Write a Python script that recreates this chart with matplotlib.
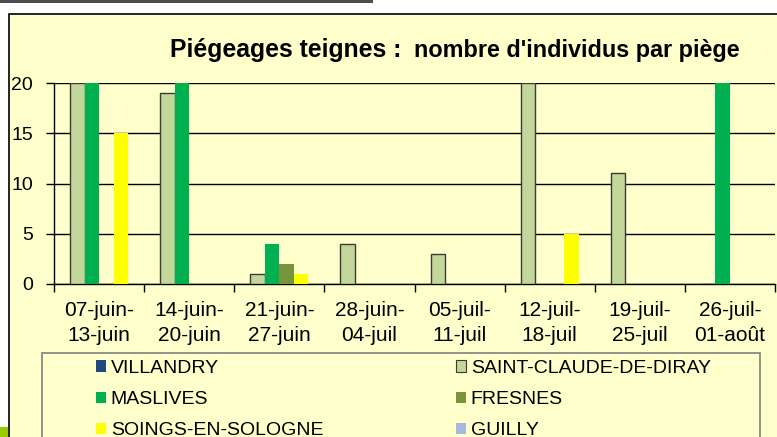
import matplotlib
matplotlib.use("Agg")
import matplotlib.pyplot as plt
from matplotlib.patches import Rectangle, Patch
import numpy as np

plt.rcParams['font.family'] = ['Liberation Sans', 'DejaVu Sans']

categories = ["07-juin-\n13-juin", "14-juin-\n20-juin", "21-juin-\n27-juin", "28-juin-\n04-juil",
              "05-juil-\n11-juil", "12-juil-\n18-juil", "19-juil-\n25-juil", "26-juil-\n01-août"]
series_names = ["VILLANDRY", "SAINT-CLAUDE-DE-DIRAY", "MASLIVES", "FRESNES", "SOINGS-EN-SOLOGNE", "GUILLY"]
villandry = [0, 0, 0, 0, 0, 0, 0, 0]
saint_claude = [20, 19, 1, 4, 3, 20, 11, 0]
maslives = [20, 20, 4, 0, 0, 0, 0, 20]
fresnes = [0, 0, 2, 0, 0, 0, 0, 0]
soings = [15, 0, 1, 0, 0, 5, 0, 0]
guilly = [0, 0, 0, 0, 0, 0, 0, 0]
series_values = [villandry, saint_claude, maslives, fresnes, soings, guilly]
colors = ["#1F497D", "#C4D79B", "#00B050", "#77933C", "#FFFF00", "#A6B8DC"]
edges = [None, "#3A3A3A", None, None, None, None]
yticks = [0, 5, 10, 15, 20]

W, H = 777, 437
fig = plt.figure(figsize=(W / 100, H / 100), dpi=100)
fig.patch.set_facecolor("white")

def fx(px):
    return px / W

def fy(py):
    return 1 - py / H

# chart area background
fig.patches.append(Rectangle((fx(9), fy(460)), fx(800) - fx(9), fy(14) - fy(460),
                             transform=fig.transFigure, facecolor="#FFFFCC",
                             edgecolor="black", linewidth=1.2, zorder=-2))
# top dark bar
fig.patches.append(Rectangle((0, fy(3)), fx(373), 3 / H, transform=fig.transFigure,
                             facecolor="#4D4D4D", edgecolor="none", zorder=-1))
# small green square bottom-left
fig.patches.append(Rectangle((0, 0), fx(8), 10 / H, transform=fig.transFigure,
                             facecolor="#99CC00", edgecolor="none", zorder=-1))

ax = fig.add_axes([fx(54), fy(284), fx(775) - fx(54), fy(83) - fy(284)])
ax.set_facecolor("#FFFFCC")
ax.set_zorder(3)

x = np.arange(len(categories))
w = 0.161
for i, (vals, c, e) in enumerate(zip(series_values, colors, edges)):
    ax.bar(x + (i - 2.5) * w, vals, width=w, color=c,
           edgecolor=e if e else c, linewidth=1.0 if e else 0,
           label=series_names[i], zorder=3)

ax.set_ylim(0, 20)
ax.set_xlim(-0.5, len(categories) - 0.5)
ax.set_yticks(yticks)
ax.set_yticklabels([str(v) for v in yticks], fontsize=14)
ax.yaxis.grid(True, color="black", linewidth=1.0, zorder=0)
ax.set_axisbelow(True)
ax.tick_params(axis="y", length=6, width=1, direction="out", pad=9, colors="black")

ax.set_xticks(np.arange(len(categories) + 1) - 0.5)
ax.set_xticklabels([])
ax.tick_params(axis="x", which="major", length=6, width=1, direction="out")
ax.set_xticks(x, minor=True)
ax.set_xticklabels(categories, minor=True, fontsize=15)
ax.tick_params(axis="x", which="minor", length=0, pad=12)
for lbl in ax.get_xticklabels(minor=True):
    lbl.set_linespacing(1.45)

for s in ["top", "right"]:
    ax.spines[s].set_visible(False)
ax.spines["left"].set_linewidth(1.0)
ax.spines["bottom"].set_linewidth(1.0)

# title
fig.text(fx(170), fy(57), "Piégeages teignes :", fontsize=17.8, fontweight="bold",
         va="baseline", ha="left")
fig.text(fx(414), fy(57), "nombre d'individus par piège", fontsize=16.8, fontweight="bold",
         va="baseline", ha="left")

# legend box
fig.patches.append(Rectangle((fx(42), fy(470)), fx(760) - fx(42), fy(353) - fy(470),
                             transform=fig.transFigure, facecolor="#FFFFCC",
                             edgecolor="#7F7F7F", linewidth=1.2, zorder=2))

handles = [Patch(facecolor=c, edgecolor=(e if e else c), linewidth=(0.8 if e else 0))
           for c, e in zip(colors, edges)]
fs = 14
hl = 10 / (fs * 100 / 72)
common = dict(frameon=False, fontsize=fs, handlelength=hl, handleheight=hl,
              handletextpad=0.25, labelspacing=0.73, borderpad=0, borderaxespad=0,
              loc="upper left")
leg1 = fig.legend([handles[0], handles[2], handles[4]],
                  [series_names[0], series_names[2], series_names[4]],
                  bbox_to_anchor=(fx(96), fy(360)), **common)
leg2 = fig.legend([handles[1], handles[3], handles[5]],
                  [series_names[1], series_names[3], series_names[5]],
                  bbox_to_anchor=(fx(456), fy(360)), **common)
leg1.set_zorder(5)
leg2.set_zorder(5)

fig.savefig("out.png", dpi=100)
